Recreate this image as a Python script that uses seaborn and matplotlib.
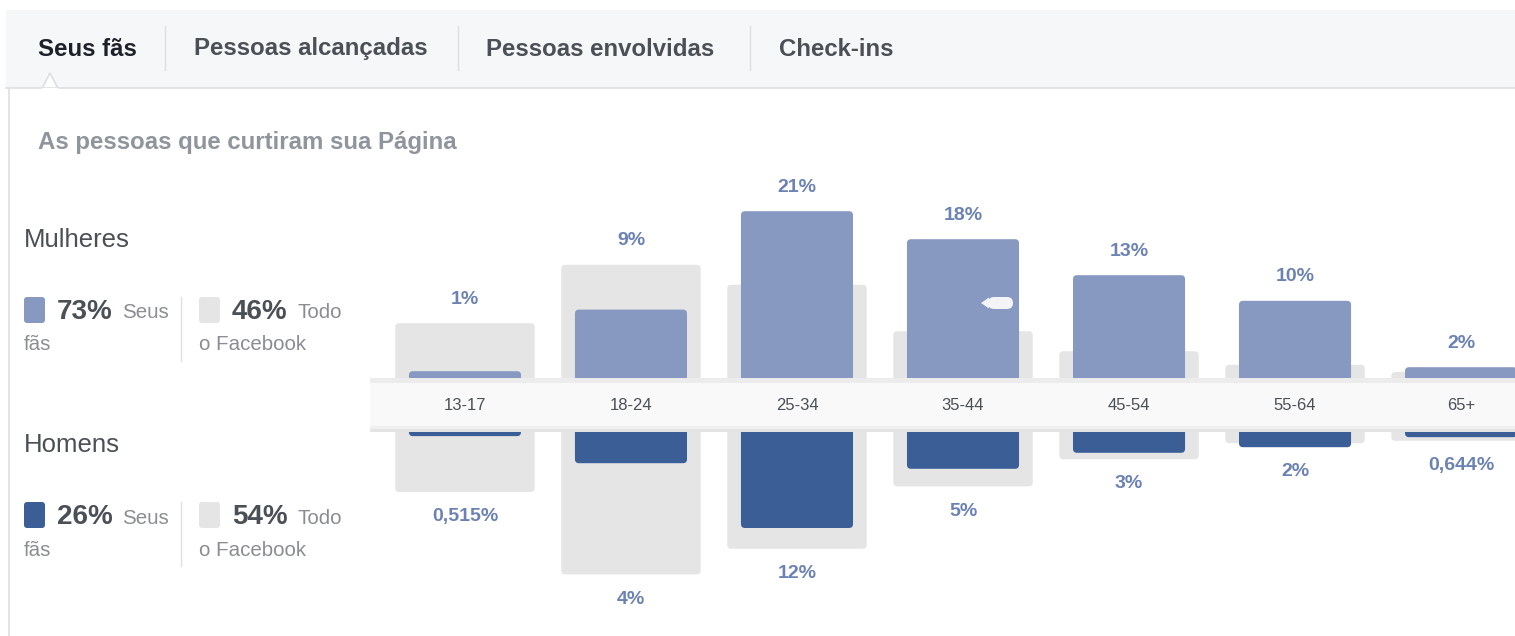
import matplotlib
matplotlib.use('Agg')
import matplotlib.pyplot as plt
import seaborn as sns
from matplotlib.patches import Rectangle, FancyBboxPatch, Polygon

# dados (% do total de fãs / do Facebook)
faixas = ['13-17', '18-24', '25-34', '35-44', '45-54', '55-64', '65+']
mulheres_fas = [1.1, 8.8, 21.1, 17.6, 13.1, 9.9, 1.6]
homens_fas = [0.515, 3.9, 12.0, 4.6, 2.6, 1.9, 0.644]
mulheres_facebook = [7.1, 14.4, 11.9, 6.1, 3.6, 1.9, 1.0]
homens_facebook = [7.5, 17.8, 14.6, 6.8, 3.4, 1.4, 1.1]
rotulos_mulheres = ['1%', '9%', '21%', '18%', '13%', '10%', '2%']
rotulos_homens = ['0,515%', '4%', '12%', '5%', '3%', '2%', '0,644%']
abas = ['Seus fãs', 'Pessoas alcançadas', 'Pessoas envolvidas', 'Check-ins']

azul_claro = '#8799c0'
azul_escuro = '#3b5e96'
cinza = '#e5e5e5'
azul_rotulo = '#6c82b3'
texto = '#4b4f56'
texto_claro = '#8a8d93'
linha = '#dddfe2'

plt.rcParams['font.family'] = ['Liberation Sans', 'DejaVu Sans']

W, H = 1515, 636
fig = plt.figure(figsize=(W / 100, H / 100), dpi=100)
fig.patch.set_facecolor('white')

# eixo de fundo em pixels
fundo = fig.add_axes([0, 0, 1, 1], zorder=0)
fundo.set_xlim(0, W)
fundo.set_ylim(H, 0)
fundo.axis('off')


def eixo_px(x0, y0, x1, y1, z=1):
    ax = fig.add_axes([x0 / W, 1 - y1 / H, (x1 - x0) / W, (y1 - y0) / H], zorder=z)
    ax.patch.set_alpha(0)
    return ax


# cabeçalho com abas
fundo.add_patch(Rectangle((6, 10), W, 78, fc='#f6f7f9', ec='none'))
fundo.plot([6, W], [88, 88], color=linha, lw=1.2)
fundo.plot([9, 9], [88, H], color=linha, lw=1.2)
fundo.add_patch(Polygon([(42, 88.6), (50, 73), (58, 88.6)], closed=True, fc='white', ec=linha, lw=1.2))
fundo.plot([42.8, 57.2], [88.6, 88.6], color='white', lw=1.6)
pos_abas = [38, 194, 486, 779]
for i, (nome, x) in enumerate(zip(abas, pos_abas)):
    fundo.text(x, 49, nome, fontsize=17.3, fontweight='bold', va='center', ha='left',
               color='#1d2129' if i == 0 else texto)
for x in [165, 458, 750]:
    fundo.plot([x, x], [26, 70], color=linha, lw=1)

fundo.text(38, 142, 'As pessoas que curtiram sua Página', fontsize=17.3, fontweight='bold',
           color='#90949c', va='center', ha='left')


# legenda da esquerda
def bloco(y, nome, cor, pct_fas, pct_fb):
    fundo.text(24, y, nome, fontsize=18.5, color=texto, va='center', ha='left')
    yq = y + 57
    fundo.add_patch(FancyBboxPatch((24, yq), 21, 26, boxstyle='round,pad=0,rounding_size=3',
                                   fc=cor, ec='none'))
    fundo.text(57, yq + 15, pct_fas, fontsize=20, fontweight='bold', color=texto, va='center', ha='left')
    fundo.text(122, yq + 16, 'Seus', fontsize=14.8, color=texto_claro, va='center', ha='left')
    fundo.text(24, yq + 48, 'fãs', fontsize=14.8, color=texto_claro, va='center', ha='left')
    fundo.plot([181, 181], [yq, yq + 64], color=linha, lw=1)
    fundo.add_patch(FancyBboxPatch((199, yq), 21, 26, boxstyle='round,pad=0,rounding_size=3',
                                   fc=cinza, ec='none'))
    fundo.text(232, yq + 15, pct_fb, fontsize=20, fontweight='bold', color=texto, va='center', ha='left')
    fundo.text(297, yq + 16, 'Todo', fontsize=14.8, color=texto_claro, va='center', ha='left')
    fundo.text(199, yq + 48, 'o Facebook', fontsize=14.8, color=texto_claro, va='center', ha='left')


bloco(240, 'Mulheres', azul_claro, '73%', '46%')
bloco(445, 'Homens', azul_escuro, '26%', '54%')

# gráfico
base_f, base_m = 380, 432
esc = 8.0  # pixels por ponto percentual
passo = 166.0  # pixels por faixa etária
xlim = (-0.572, 6.325)
ax_f = eixo_px(370, 150, W, base_f)
ax_m = eixo_px(370, base_m, W, 626)

sns.barplot(x=faixas, y=mulheres_facebook, color=cinza, width=0.84, saturation=1,
            errorbar=None, ax=ax_f)
sns.barplot(x=faixas, y=mulheres_fas, color=azul_claro, width=0.675, saturation=1,
            errorbar=None, ax=ax_f)
sns.barplot(x=faixas, y=homens_facebook, color=cinza, width=0.84, saturation=1,
            errorbar=None, ax=ax_m)
sns.barplot(x=faixas, y=homens_fas, color=azul_escuro, width=0.675, saturation=1,
            errorbar=None, ax=ax_m)


def arredondar(ax, raio_px=4):
    # troca os retângulos por caixas com cantos arredondados, prolongadas sob a faixa
    ext = 1.0
    for p in list(ax.patches):
        x, y = p.get_x(), p.get_y()
        w, h = p.get_width(), p.get_height()
        novo = FancyBboxPatch((x, y - ext), w, h + ext,
                              boxstyle=f'round,pad=0,rounding_size={raio_px / passo}',
                              mutation_aspect=passo / esc, fc=p.get_facecolor(), ec='none',
                              zorder=p.get_zorder())
        p.remove()
        ax.add_patch(novo)


for ax in (ax_f, ax_m):
    arredondar(ax)
    ax.set_xlim(*xlim)
    ax.axis('off')
ax_f.set_ylim(0, (base_f - 150) / esc)
ax_m.set_ylim((626 - base_m) / esc, 0)

for i, (a, b, r) in enumerate(zip(mulheres_fas, mulheres_facebook, rotulos_mulheres)):
    ax_f.text(i, max(a, b) + 3.0, r, fontsize=14, fontweight='bold', color=azul_rotulo,
              ha='center', va='center')
for i, (a, b, r) in enumerate(zip(homens_fas, homens_facebook, rotulos_homens)):
    ax_m.text(i, max(a, b) + 3.1, r, fontsize=14, fontweight='bold', color=azul_rotulo,
              ha='center', va='center')

# faixa central com as idades
ax_b = eixo_px(370, base_f - 2, W, base_m, z=2)
ax_b.set_xlim(*xlim)
ax_b.set_ylim(0, 1)
ax_b.axis('off')
ax_b.add_patch(Rectangle((xlim[0], 0), xlim[1] - xlim[0], 1, fc='#f9f9f9', ec='none'))
ax_b.add_patch(Rectangle((xlim[0], 0.9), xlim[1] - xlim[0], 0.1, fc='#ececec', ec='none'))
ax_b.add_patch(Rectangle((xlim[0], 0.0), xlim[1] - xlim[0], 0.06, fc='#e4e4e4', ec='none'))
ax_b.add_patch(Rectangle((xlim[0], 0.06), xlim[1] - xlim[0], 0.05, fc='#efefef', ec='none'))
for i, faixa in enumerate(faixas):
    ax_b.text(i, 0.5, faixa, fontsize=12, color=texto, ha='center', va='center')

# cursor do mouse sobre a barra 35-44
topo = fig.add_axes([0, 0, 1, 1], zorder=3)
topo.set_xlim(0, W)
topo.set_ylim(H, 0)
topo.axis('off')
topo.add_patch(FancyBboxPatch((988, 297), 25, 12, boxstyle='round,pad=0,rounding_size=6',
                              fc='#f4f4f6', ec='none'))
topo.add_patch(Polygon([(981, 303), (989, 297.5), (989, 308.5)], closed=True, fc='#f4f4f6', ec='none'))

fig.savefig('out.png', dpi=100, facecolor='white')
